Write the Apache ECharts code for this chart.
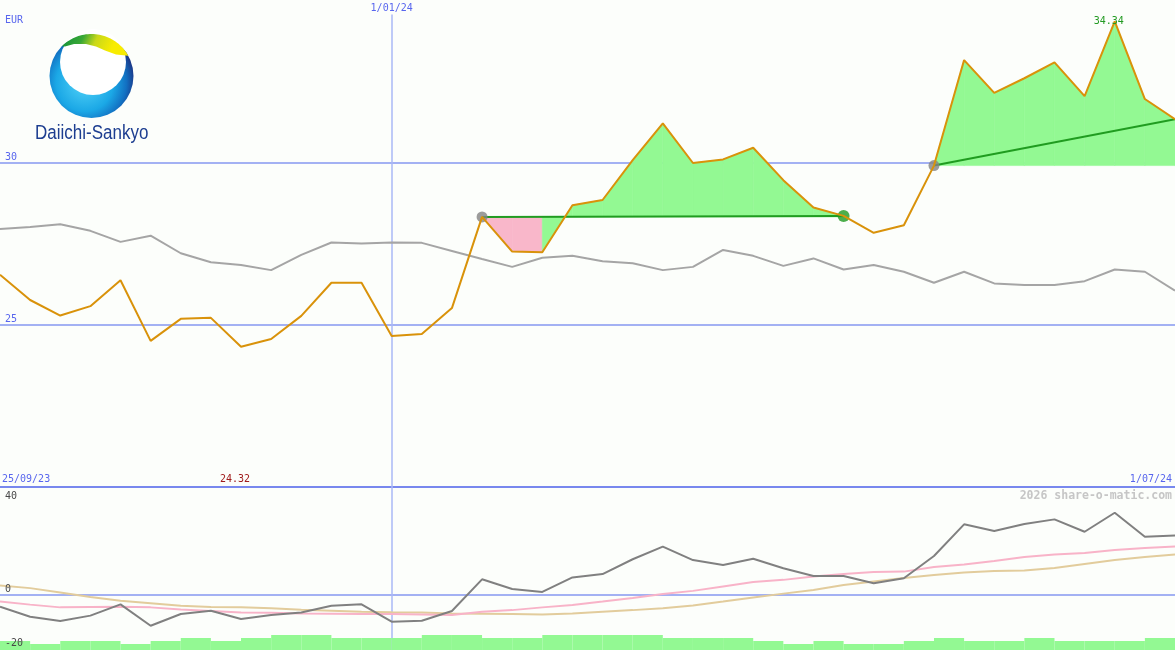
<!DOCTYPE html>
<html><head><meta charset="utf-8">
<script src="https://cdn.jsdelivr.net/npm/echarts@6/dist/echarts.min.js"></script>
<style>html,body{margin:0;padding:0;background:#fcfefb;}#c{width:1175px;height:650px;}</style>
</head><body><div id="c"></div>
<script>
// ---------- data ----------
const dates = ['2/10/23','9/10/23','16/10/23','23/10/23','30/10/23','6/11/23','13/11/23','20/11/23','27/11/23','4/12/23',
  '11/12/23','18/12/23','25/12/23','1/01/24','8/01/24','15/01/24','22/01/24','29/01/24','5/02/24','12/02/24',
  '19/02/24','26/02/24','4/03/24','11/03/24','18/03/24','25/03/24','1/04/24','8/04/24','15/04/24','22/04/24',
  '29/04/24','6/05/24','13/05/24','20/05/24','27/05/24','3/06/24','10/06/24','17/06/24','24/06/24','1/07/24'];
const price = [26.54,25.76,25.28,25.57,26.37,24.50,25.18,25.21,24.32,24.56,
  25.27,26.29,26.29,24.65,24.71,25.51,28.32,27.25,27.23,28.68,
  28.84,30.07,31.20,29.98,30.09,30.45,29.45,28.61,28.35,27.83,
  28.06,29.90,33.15,32.14,32.59,33.08,32.04,34.34,31.95,31.33];
const avgLine = [27.95,28.01,28.09,27.89,27.55,27.74,27.20,26.92,26.84,26.68,
  27.15,27.53,27.50,27.53,27.52,27.27,27.02,26.78,27.06,27.12,
  26.95,26.89,26.68,26.78,27.30,27.12,26.81,27.04,26.70,26.84,
  26.63,26.29,26.63,26.27,26.22,26.22,26.34,26.70,26.63,26.05];
const momentum = [-4.25,-7.9,-9.45,-7.5,-3.4,-11.2,-6.9,-5.7,-8.7,-7.3,
  -6.4,-3.9,-3.4,-9.7,-9.35,-5.8,5.7,2.2,1.1,6.4,
  7.6,13.0,17.6,12.7,10.9,13.2,9.7,6.9,6.9,4.25,
  6.1,14.2,25.7,23.3,25.8,27.5,23.0,29.9,21.2,21.6];
const pinkAvg = [-2.4,-3.5,-4.5,-4.4,-4.3,-4.5,-5.3,-5.8,-6.4,-6.5,
  -6.7,-6.8,-6.9,-6.9,-7.1,-7.3,-6.1,-5.5,-4.5,-3.6,
  -2.4,-1.1,0.4,1.5,3.1,4.7,5.5,6.7,7.6,8.4,
  8.5,10.2,11.1,12.4,13.8,14.7,15.3,16.4,17.1,17.6];
const tanAvg = [3.5,2.5,0.9,-0.7,-2.1,-3.0,-3.9,-4.4,-4.5,-4.8,
  -5.4,-5.7,-6.1,-6.3,-6.4,-6.7,-6.8,-6.9,-7.1,-6.7,
  -6.1,-5.5,-4.8,-3.8,-2.4,-0.9,0.5,1.8,3.6,4.9,
  6.2,7.3,8.2,8.7,8.9,9.8,11.3,12.7,13.8,14.7];
const volumeLevel = [3,2,3,3,2,3,4,3,4,5,
  5,4,4,4,5,5,4,4,5,5,
  5,5,4,4,4,3,2,3,2,2,
  3,4,3,3,4,3,3,3,4];
const trendFrom = [16, 31];
const trendTo = [28, 39];
const trendFromVal = [28.32, 29.90];
const trendToVal = [28.35, 31.33];
const trendClosed = [true, false];
const upperTicks = [25, 30];
const lowerTicks = [40, 0, -20];
const xTickLabels = ['25/09/23', '1/01/24', '1/07/24'];
const xTickIndex = [0, 13, 39];

// ---------- styles ----------
const BLUE_TXT = '#5866ee';
const GRID_LINE = '#a3b1f3';
const MONO = 'DejaVu Sans Mono';

const chart = echarts.init(document.getElementById('c'), null, {renderer: 'canvas'});

const fillData = [];
trendFrom.forEach((f, r) => { for (let i = f; i < trendTo[r]; i++) fillData.push([i, r]); });

const series = [];
// reference lines upper
series.push({
  type: 'line', xAxisIndex: 0, yAxisIndex: 0, data: avgLine, symbol: 'none', silent: true, z: 1,
  lineStyle: {opacity: 0},
  markLine: {
    z: 1, silent: true, symbol: 'none', label: {show: false}, animation: false,
    data: [
      {yAxis: upperTicks[0], lineStyle: {color: GRID_LINE, width: 2, type: 'solid'}},
      {yAxis: upperTicks[1], lineStyle: {color: GRID_LINE, width: 2, type: 'solid'}},
      [{coord: [dates[xTickIndex[1]], 34.55], lineStyle: {color: '#aab8f6', width: 1.5, type: 'solid'}},
       {coord: [dates[xTickIndex[1]], 20]}]
    ]
  }
});
// fill between price and signal base
series.push({
  type: 'custom', xAxisIndex: 0, yAxisIndex: 0, data: fillData, z: 2, silent: true,
  renderItem: function (params, api) {
    const i = api.value(0), r = api.value(1);
    const base = trendFromVal[r];
    const p1 = api.coord([i, price[i]]), p2 = api.coord([i + 1, price[i + 1]]);
    const b2 = api.coord([i + 1, base]), b1 = api.coord([i, base]);
    const up = price[i + 1] >= base;
    return {type: 'polygon', shape: {points: [p1, p2, b2, b1]},
      style: {fill: up ? '#93f993' : '#f9b7ca', stroke: up ? '#93f993' : '#f9b7ca', lineWidth: 0.6}};
  }
});
// gray average
series.push({type: 'line', xAxisIndex: 0, yAxisIndex: 0, data: avgLine, symbol: 'none', z: 3,
  lineStyle: {color: '#a5a5a5', width: 2}});
// trend lines
trendFrom.forEach((f, r) => {
  series.push({type: 'line', xAxisIndex: 0, yAxisIndex: 0, symbol: 'none', z: 4,
    data: [[dates[f], trendFromVal[r]], [dates[trendTo[r]], trendToVal[r]]],
    lineStyle: {color: '#209c20', width: 2}});
});
// signal markers
series.push({type: 'scatter', xAxisIndex: 0, yAxisIndex: 0, z: 5, symbolSize: 11,
  itemStyle: {color: '#838383'},
  data: trendFrom.map((f, r) => [dates[f], trendFromVal[r]])});
series.push({type: 'scatter', xAxisIndex: 0, yAxisIndex: 0, z: 5, symbolSize: 12,
  itemStyle: {color: '#1f9a1f'},
  data: trendTo.filter((t, r) => trendClosed[r]).map((t) => [dates[t], price[t]])});
// price line
series.push({type: 'line', xAxisIndex: 0, yAxisIndex: 0, data: price, symbol: 'none', z: 6,
  lineStyle: {color: '#d9920a', width: 2}});

// lower panel
series.push({type: 'bar', xAxisIndex: 2, yAxisIndex: 2, data: volumeLevel, z: 1, silent: true,
  barWidth: '100%', barCategoryGap: '0%', itemStyle: {color: '#93f993'}});
series.push({
  type: 'line', xAxisIndex: 1, yAxisIndex: 1, data: tanAvg, symbol: 'none', z: 3,
  lineStyle: {color: '#e2cc9c', width: 2},
  markLine: {
    z: 1, silent: true, symbol: 'none', label: {show: false}, animation: false,
    data: [
      {yAxis: 0, lineStyle: {color: GRID_LINE, width: 2, type: 'solid'}},
      {xAxis: dates[xTickIndex[1]], lineStyle: {color: '#aab8f6', width: 1.5, type: 'solid'}}
    ]
  }
});
series.push({type: 'line', xAxisIndex: 1, yAxisIndex: 1, data: pinkAvg, symbol: 'none', z: 4,
  lineStyle: {color: '#f8b3c8', width: 2}});
series.push({type: 'line', xAxisIndex: 1, yAxisIndex: 1, data: momentum, symbol: 'none', z: 5,
  lineStyle: {color: '#808080', width: 2}});

const option = {
  backgroundColor: '#fcfefb',
  animation: false,
  grid: [
    {left: 0, right: 0, top: 0, height: 487},
    {left: 0, right: 0, top: 487, height: 163}
  ],
  xAxis: [
    {type: 'category', gridIndex: 0, data: dates, boundaryGap: false,
      axisLine: {show: true, lineStyle: {color: '#7888ee', width: 2}},
      axisTick: {show: false}, axisLabel: {show: false}, splitLine: {show: false}},
    {type: 'category', gridIndex: 1, data: dates, boundaryGap: false, show: false},
    {type: 'category', gridIndex: 1, data: dates.slice(1), boundaryGap: true, show: false}
  ],
  yAxis: [
    {type: 'value', gridIndex: 0, min: 20, max: 35, interval: 5,
      axisLine: {show: false}, axisTick: {show: false}, splitLine: {show: false},
      axisLabel: {inside: true, margin: 5, verticalAlign: 'bottom', color: BLUE_TXT,
        fontFamily: MONO, fontSize: 10, formatter: v => upperTicks.includes(v) ? String(v) : ''}},
    {type: 'value', gridIndex: 1, min: -20, max: 39.27, show: false, splitLine: {show: false}},
    {type: 'value', gridIndex: 1, min: 0, max: 54.33, show: false, splitLine: {show: false}}
  ],
  series: series
};
chart.setOption(option);

// ---------- logo + texts ----------
const cx = 91.5, cy = 76, R = 42;
const a1 = Math.atan2(47 - cy, 62.8 - cx), a2 = Math.atan2(56 - cy, 128 - cx);
const band = [];
for (let k = 0; k <= 40; k++) { const a = a1 + (a2 - a1) * k / 40; band.push([cx + R * Math.cos(a), cy + R * Math.sin(a)]); }
band.push([116, 54.5], [105, 50.5], [96, 46.5], [86, 44], [74, 44], [65, 46.5]);

const g = [];
g.push({type: 'circle', shape: {cx: cx, cy: cy, r: R}, z: 100,
  style: {fill: new echarts.graphic.RadialGradient(0.42, 0.58, 0.62, [
    {offset: 0, color: '#55d4f8'}, {offset: 0.55, color: '#1ba8e6'},
    {offset: 0.8, color: '#1270c2'}, {offset: 1, color: '#1c2c7c'}])}});
g.push({type: 'circle', shape: {cx: 93, cy: 62, r: 33}, z: 101, style: {fill: '#ffffff'}});
g.push({type: 'polygon', shape: {points: band}, z: 102,
  style: {fill: new echarts.graphic.LinearGradient(0, 0, 0.7, 1, [
    {offset: 0, color: '#0f8f3a'}, {offset: 0.4, color: '#3aa836'},
    {offset: 0.65, color: '#c9d81a'}, {offset: 1, color: '#f8ec00'}])}});
g.push({type: 'text', x: 35, y: 133, z: 103, scaleX: 0.85,
  style: {text: 'Daiichi-Sankyo', fill: '#1d3e90', font: '20px "Liberation Sans", sans-serif',
    align: 'left', verticalAlign: 'middle'}});

function txt(text, x, y, color, align, font) {
  g.push({type: 'text', x: x, y: y, z: 110,
    style: {text: text, fill: color, font: font || ('10px "' + MONO + '"'), align: align, verticalAlign: 'middle'}});
}
txt('EUR', 5, 20, BLUE_TXT, 'left');
// date labels
const pTop = chart.convertToPixel({xAxisIndex: 0}, dates[xTickIndex[1]]);
txt(xTickLabels[1], pTop, 8, BLUE_TXT, 'center');
txt(xTickLabels[0], 2, 479, BLUE_TXT, 'left');
txt(xTickLabels[2], 1172, 479, BLUE_TXT, 'right');
txt('2026 share-o-matic.com', 1172, 496, '#c6c6c6', 'right', 'bold 11.5px "' + MONO + '"');
// min / max
const maxV = Math.max(...price), minV = Math.min(...price);
const maxI = price.indexOf(maxV), minI = price.indexOf(minV);
const pMax = chart.convertToPixel({xAxisIndex: 0, yAxisIndex: 0}, [maxI, maxV]);
const pMin = chart.convertToPixel({xAxisIndex: 0, yAxisIndex: 0}, [minI, minV]);
txt(maxV.toFixed(2), pMax[0] - 6, pMax[1], '#229a22', 'center');
txt(minV.toFixed(2), pMin[0] - 6, 479, '#a01c1c', 'center');
// lower axis labels
lowerTicks.forEach(v => {
  let y = chart.convertToPixel({yAxisIndex: 1}, v) - 6;
  y = Math.max(496, Math.min(643, y));
  txt(String(v), 5, y, '#484848', 'left');
});
chart.setOption({graphic: g});
</script>
</body></html>
